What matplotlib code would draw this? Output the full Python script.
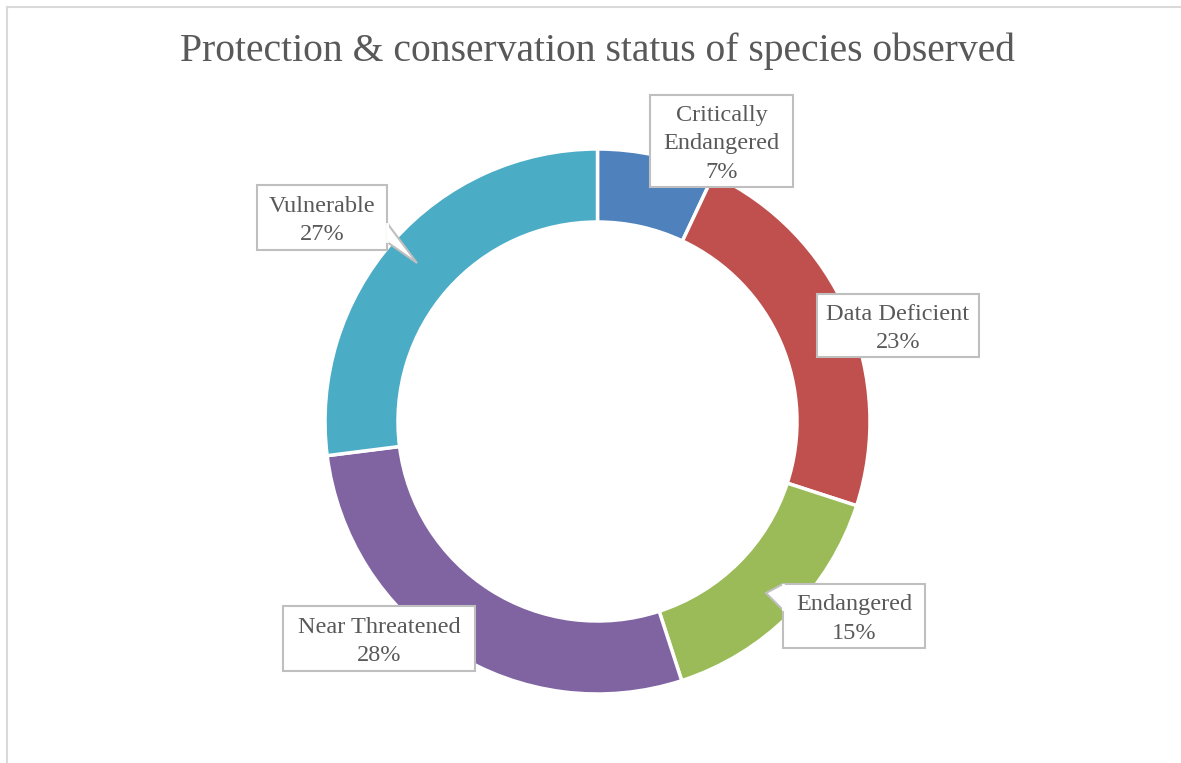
import matplotlib
matplotlib.use("Agg")
import matplotlib.pyplot as plt
from matplotlib.patches import Polygon, Rectangle
from matplotlib.lines import Line2D

# Share of observed species per conservation status (clockwise from 12 o'clock)
categories = ["Critically\nEndangered", "Data Deficient", "Endangered",
              "Near Threatened", "Vulnerable"]
values = [7, 23, 15, 28, 27]
colors = ["#4F81BD", "#C0504D", "#9BBB59", "#8064A2", "#4BACC6"]
title = "Protection & conservation status of species observed"

W, H = 1181, 763
fig = plt.figure(figsize=(W / 100, H / 100), dpi=100)
ax = fig.add_axes([0, 0, 1, 1])
ax.set_xlim(0, W)
ax.set_ylim(0, H)
ax.set_aspect("equal")
ax.axis("off")

FONT = "Liberation Serif"
TEXT_COLOR = "#595959"
BOX_EDGE = "#BFBFBF"

# chart frame
ax.add_line(Line2D([7, W], [H - 7, H - 7], color="#D9D9D9", lw=1.5))
ax.add_line(Line2D([7, 7], [0, H - 7], color="#D9D9D9", lw=1.5))

# doughnut
cx, cy, R = 597.5, H - 421.5, 272.5
ax.pie(values, colors=colors, startangle=90, counterclock=False,
       center=(cx, cy), radius=R, frame=True,
       wedgeprops=dict(width=73, edgecolor="white", linewidth=2.5))
ax.set_xlim(0, W)
ax.set_ylim(0, H)
ax.axis("off")

ax.text(cx, H - 51, title, ha="center", va="center", fontsize=28.5,
        family=FONT, color=TEXT_COLOR)

# callout boxes: (left, top, right, bottom) in pixels from top-left, optional pointer
boxes = [
    ((650, 95, 793, 187), None),
    ((817, 294, 979, 357), None),
    ((783, 584, 925, 648), [(783, 584), (766, 593), (783, 610)]),
    ((283, 606, 475, 671), None),
    ((257, 185, 387, 250), [(387, 223), (417, 263), (387, 242)]),
]

total = sum(values)
for name, v, (box, ptr) in zip(categories, values, boxes):
    l, t, r, b = box
    rect = Rectangle((l, H - b), r - l, b - t, facecolor="white",
                     edgecolor=BOX_EDGE, lw=1.5, zorder=5)
    ax.add_patch(rect)
    if ptr is not None:
        pts = [(x, H - y) for x, y in ptr]
        ax.add_patch(Polygon(pts, closed=False, facecolor="white",
                             edgecolor=BOX_EDGE, lw=1.5, zorder=6))
        # cover the box edge where the pointer joins it
        ax.add_line(Line2D([pts[0][0], pts[2][0]], [pts[0][1] - 1, pts[2][1] + 1],
                           color="white", lw=2, zorder=7))
    label = f"{name}\n{v / total * 100:.0f}%"
    ax.text((l + r) / 2, H - (t + b) / 2 - 3, label, ha="center", va="center",
            fontsize=17.5, family=FONT, color=TEXT_COLOR, linespacing=1.45,
            zorder=8)

fig.savefig("out.png", dpi=100)
